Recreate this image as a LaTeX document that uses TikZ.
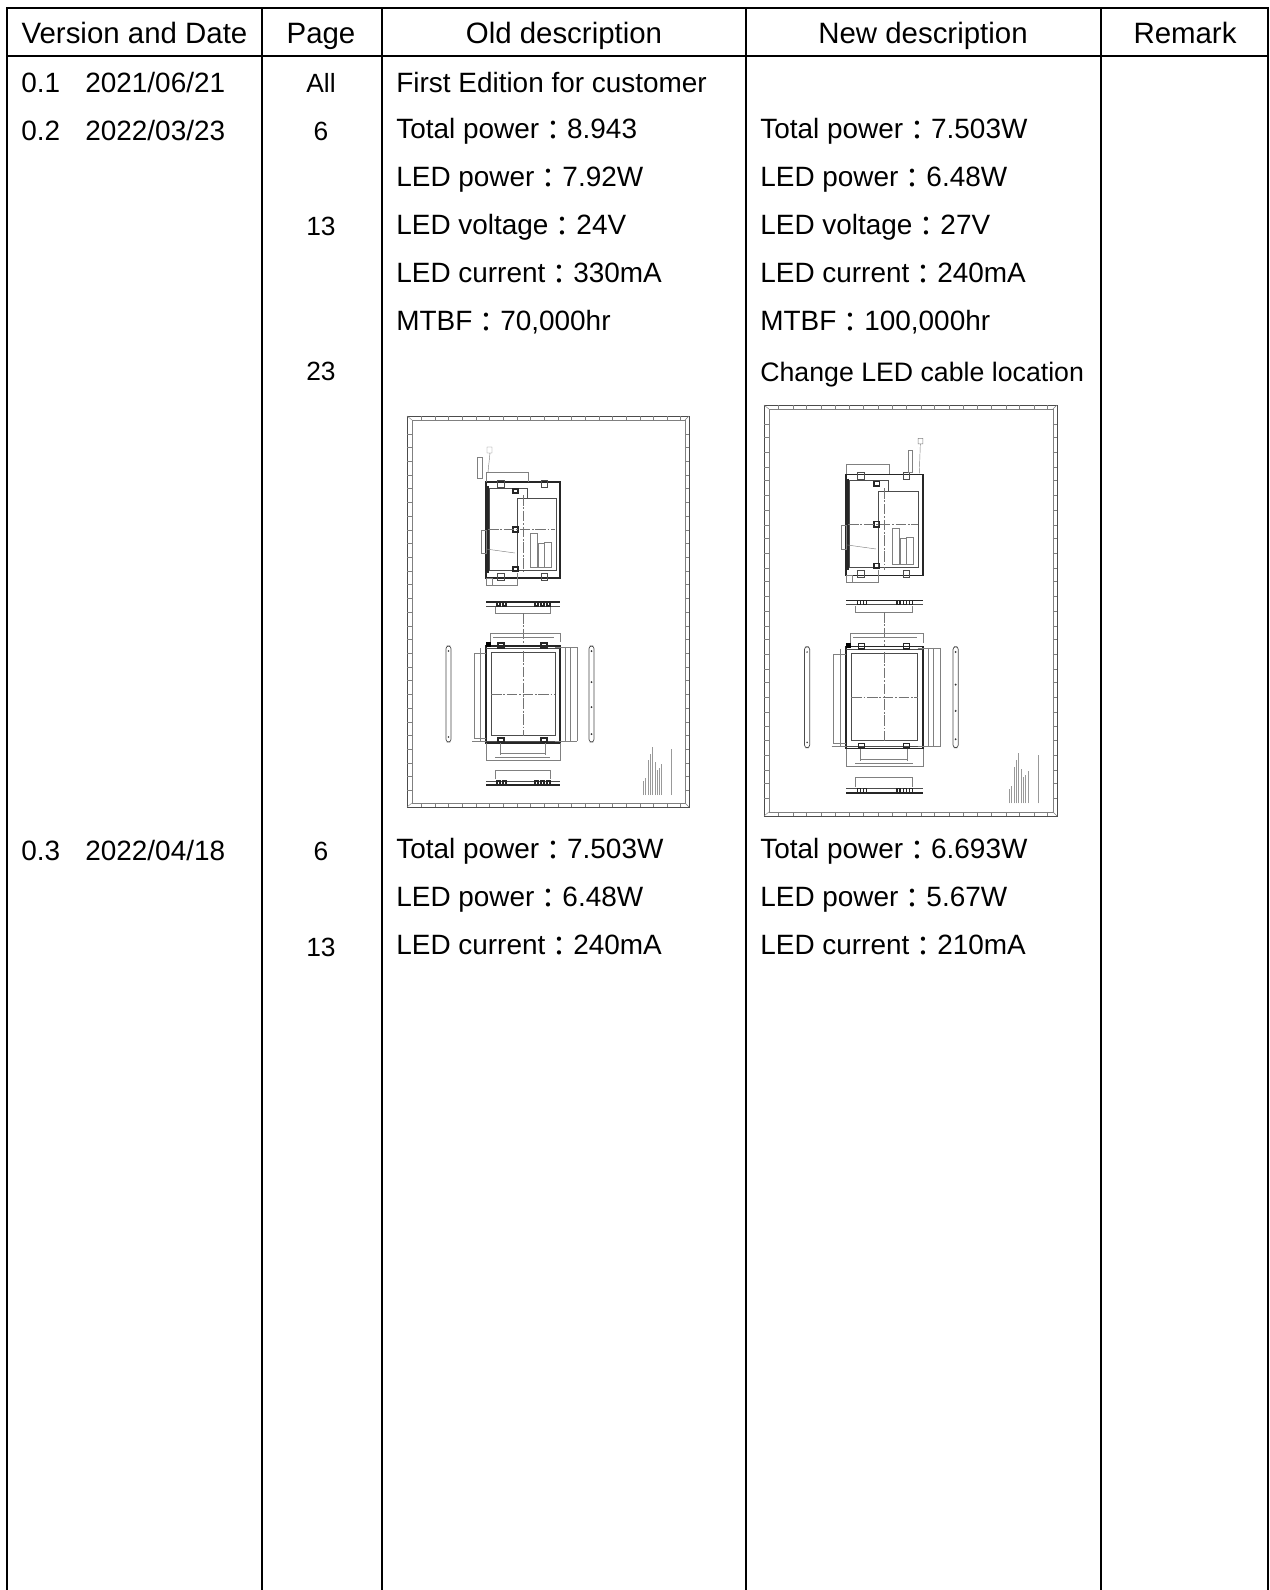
\documentclass[tikz,border=0pt]{standalone}
\usepackage{fontspec}
\setmainfont{Liberation Sans}
\newfontfamily\cjk{Noto Sans CJK TC}
\usetikzlibrary{positioning}
\newcommand{\cln}{\raisebox{-0.1em}{\cjk ：}}
\tikzset{
  rule/.style={line width=1.15pt},
  headtxt/.style={font=\fontsize{16.75}{20}\selectfont,anchor=base},
  celltxt/.style={font=\fontsize{15.9}{19}\selectfont,anchor=base west,inner sep=0pt},
  pagetxt/.style={font=\fontsize{15}{18}\selectfont,anchor=base,inner sep=0pt},
  thin draw/.style={line width=0.25pt,black!50},
  mid draw/.style={line width=0.4pt,black!70},
  heavy draw/.style={line width=0.75pt,black!85},
  center draw/.style={line width=0.25pt,black!55,dash pattern=on 6pt off 1pt on 1pt off 1pt},
  note draw/.style={line width=0.35pt,black!40},
}
% small mechanical drawing, units are pixels of a 300x410 box
\newcommand{\mechdraw}{%
  % outer frame
  \draw[mid draw] (7,6) rectangle (289,397);
  \draw[thin draw] (12,10) rectangle (285,393);
  \draw[thin draw] (7,6) -- (12,10) (289,6) -- (285,10) (7,397) -- (12,393) (289,397) -- (285,393);
  \foreach \x in {21,35,48,62,76,89,103,117,130,144,158,171,185,199,212,226,240,253,267,280} {
    \draw[thin draw] (\x,6) -- (\x,10);
    \draw[thin draw] (\x,393) -- (\x,397);
  }
  \foreach \y in {24,37,51,65,78,92,106,120,133,147,161,174,188,202,216,229,243,257,270,284,298,312,325,339,353,366,380} {
    \draw[thin draw] (7,\y) -- (12,\y);
    \draw[thin draw] (285,\y) -- (289,\y);
  }
  % top view
  \draw[heavy draw] (86,72) rectangle (160,168);
  \draw[mid draw] (89,78) -- (127,78) -- (127,88) -- (156,88) -- (156,160) -- (89,160) -- cycle;
  \draw[mid draw] (117,88) -- (127,88) (117,88) -- (117,160);
  \draw[heavy draw] (88,76) -- (88,163);
  \draw[thin draw] (130,123) rectangle (137,157);
  \draw[thin draw] (138,133) rectangle (144,157);
  \draw[thin draw] (144,132) rectangle (151,157);
  \draw[mid draw] (97,70) rectangle (104,77);
  \draw[mid draw] (141,70) rectangle (147,77);
  \draw[mid draw] (97,163) rectangle (104,170);
  \draw[mid draw] (141,163) rectangle (147,170);
  \draw[heavy draw] (113,79) rectangle (118,83);
  \draw[heavy draw] (113,117) rectangle (118,122);
  \draw[heavy draw] (113,157) rectangle (118,161);
  \draw[center draw] (88,119) -- (155,119);
  \draw[center draw] (123,85) -- (123,163);
  \draw[thin draw] (86,62) -- (86,72) (128,62) -- (128,72) (86,62) -- (128,62);
  \draw[thin draw] (81,120) rectangle (86,143);
  \draw[thin draw] (86,139) -- (115,143);
  \draw[thin draw] (86,168) -- (86,175) -- (117,175) -- (117,163);
  \draw[thin draw] (86,168) rectangle (92,175);
  % side strip above
  \draw[heavy draw] (86,192) -- (160,192);
  \draw[mid draw] (86,196) -- (160,196);
  \foreach \x in {97,103,135,141,147} \draw[heavy draw] (\x,192) rectangle +(3,4);
  \draw[thin draw] (95,197) -- (95,203) -- (150,203) -- (150,197);
  \draw[center draw] (123,203) -- (123,235);
  % front view
  \draw[heavy draw] (86,236) rectangle (160,333);
  \draw[mid draw] (91,242) rectangle (155,325);
  \draw[mid draw] (86,238) -- (160,238) (86,331) -- (160,331);
  \fill (86,232) rectangle (91,237);
  \draw[heavy draw] (98,233) rectangle (104,238);
  \draw[heavy draw] (141,233) rectangle (147,238);
  \draw[heavy draw] (98,328) rectangle (104,332);
  \draw[heavy draw] (141,328) rectangle (147,332);
  \draw[center draw] (91,284) -- (155,284);
  \draw[center draw] (123,241) -- (123,326);
  \draw[thin draw] (90,223) -- (160,223) (93,227) -- (154,227) (90,223) -- (90,232) (160,223) -- (160,232);
  \draw[thin draw] (74,243) -- (86,243) (74,243) -- (74,328) -- (86,328);
  \draw[thin draw] (80,238) -- (80,331) (72,331) -- (86,331);
  \foreach \x in {165,170,177} \draw[thin draw] (\x,237) -- (\x,331);
  \draw[thin draw] (155,237) -- (177,237) (155,331) -- (177,331);
  \draw[thin draw] (86,333) -- (86,350) -- (160,350) -- (160,333);
  \draw[thin draw] (100,343) -- (145,343) (100,333) -- (100,345) (145,333) -- (145,345);
  \draw[thin draw] (95,347) -- (150,347);
  % end pieces
  \draw[mid draw,rounded corners=1.5pt] (46,236) rectangle (51,332);
  \draw[mid draw,rounded corners=1.5pt] (189,236) rectangle (194,332);
  \foreach \y in {241,272,297,324} \fill[black!80] (191.5,\y) circle (1);
  \foreach \y in {241,327} \fill[black!80] (48.5,\y) circle (0.8);
  % side strip below
  \draw[heavy draw] (86,375) -- (160,375);
  \draw[mid draw] (86,371) -- (160,371);
  \foreach \x in {97,103,135,141,147} \draw[heavy draw] (\x,371) rectangle +(3,4);
  \draw[thin draw] (95,369) -- (95,360) -- (150,360) -- (150,369);
  % notes
  \foreach \x/\t in {243/371,245/368,248/350,250/344,252/337,255/352,257/360,259/358,261/354,271/339} {
    \draw[note draw] (\x,385) -- (\x,\t);
  }
}
\begin{document}
\begin{tikzpicture}[x=0.02cm,y=-0.02cm]
\useasboundingbox (0,0) rectangle (1270,1590);
\fill[white] (0,0) rectangle (1270,1590);
% table lines
\draw[rule] (7,1590) -- (7,8) -- (1268,8) -- (1268,1590);
\draw[rule] (7,56) -- (1268,56);
\foreach \x in {262,382,746,1101} {
  \draw[rule] (\x,8) -- (\x,1590);
}
% header
\node[headtxt] (hver) at (134.5,43) {Version and Date};
\node[headtxt] (hpage) at (321,43) {Page};
\node[headtxt] (hold) at (564,43) {Old description};
\node[headtxt] (hnew) at (923,43) {New description};
\node[headtxt] (hrem) at (1185,43) {Remark};
% version column
\node[celltxt] (v1) at (21,92) {0.1};
\node[celltxt] (d1) at (85,92) {2021/06/21};
\node[celltxt] (v2) at (21,140) {0.2};
\node[celltxt] (d2) at (85,140) {2022/03/23};
\node[celltxt] (v3) at (21,860) {0.3};
\node[celltxt] (d3) at (85,860) {2022/04/18};
% page column
\foreach \nm/\y/\t in {pa/92/All,pb/140/6,pc/235/13,pd/380/23,pe/860/6,pf/956/13} {
  \node[pagetxt] (\nm) at (321,\y) {\t};
}
% old description
\foreach \nm/\y/\t in {oa/92/First Edition for customer,
  ob/138/Total power\cln8.943,oc/186/LED power\cln7.92W,
  od/234/LED voltage\cln24V,oe/282/LED current\cln330mA,
  {of/330/MTBF\cln70,000hr},og/858/Total power\cln7.503W,
  oh/906/LED power\cln6.48W,oi/954/LED current\cln240mA} {
  \node[celltxt] (\nm) at (396,\y) {\t};
}
% new description
\foreach \nm/\y/\t in {na/138/Total power\cln7.503W,nb/186/LED power\cln6.48W,
  nc/234/LED voltage\cln27V,nd/282/LED current\cln240mA,
  {ne/330/MTBF\cln100,000hr},
  ng/858/Total power\cln6.693W,nh/906/LED power\cln5.67W,ni/954/LED current\cln210mA} {
  \node[celltxt] (\nm) at (760,\y) {\t};
}
\node[celltxt,font=\fontsize{15.2}{19}\selectfont] (nf) at (760,381) {Change LED cable location};
% drawings
\begin{scope}[shift={(400,410)}]
\mechdraw
% cable on the left
\draw[thin draw] (77,47) rectangle (82,68);
\draw[thin draw] (87,37) rectangle (92,43) (90,43) -- (88,62);
\end{scope}
\begin{scope}[shift={(756.7,398.7)},x=0.02078cm,y=-0.02102cm]
\mechdraw
% cable on the right
\draw[thin draw] (145.4,49) rectangle (150,69.5);
\draw[thin draw] (155.3,37.7) rectangle (160,43) (157.5,43) -- (156.5,71);
\end{scope}
\end{tikzpicture}
\end{document}
